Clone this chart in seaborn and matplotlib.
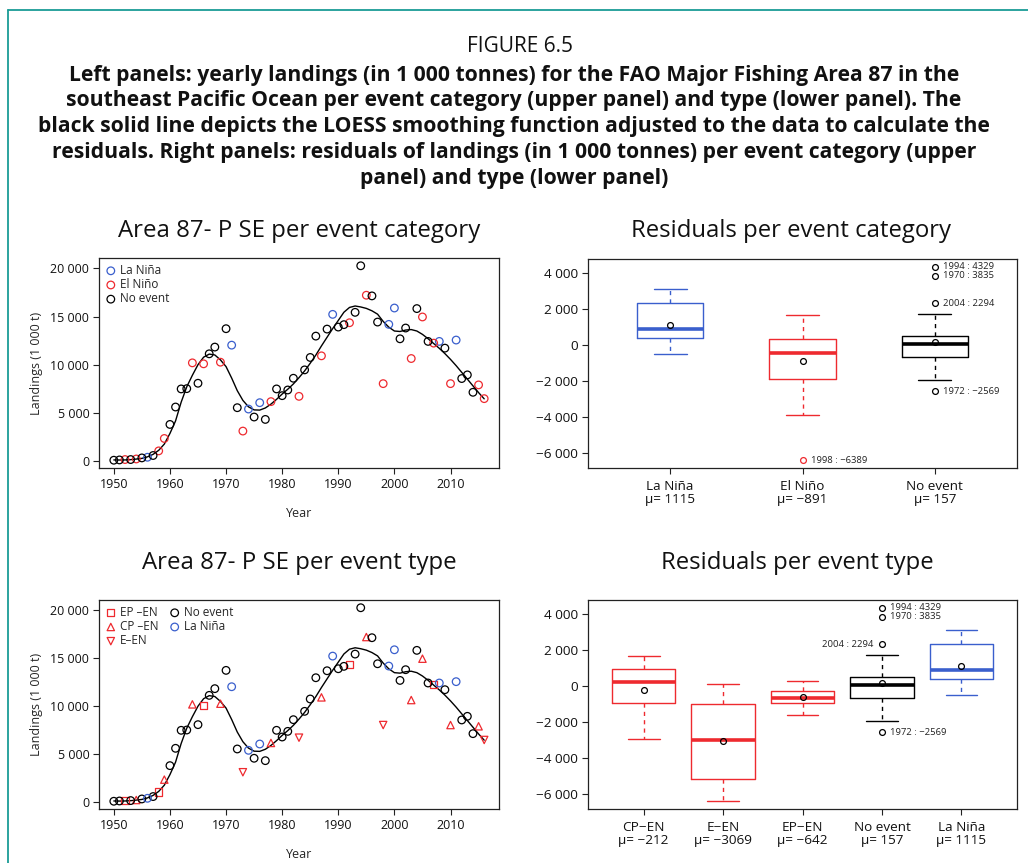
import matplotlib
matplotlib.use("Agg")
import matplotlib.pyplot as plt
from matplotlib.lines import Line2D
from matplotlib.ticker import FuncFormatter
import numpy as np
import pandas as pd
import seaborn as sns


# ---- data --------------------------------------------------------------------
YEARS = list(range(1950, 2017))

LANDINGS = [
    70, 100, 140, 140, 200, 310, 380, 560, 1040, 2330,            # 1950-1959
    3790, 5600, 7480, 7510, 10190, 8070, 10090, 11130, 11830, 10260,  # 1960s
    13740, 12030, 5530, 3100, 5390, 4560, 6050, 4310, 6160, 7480,     # 1970s
    6780, 7370, 8590, 6710, 9460, 10750, 12970, 10920, 13700, 15230,  # 1980s
    13910, 14160, 14360, 15440, 20280, 17220, 17150, 14430, 8030, 14190,  # 1990s
    15890, 12690, 13810, 10640, 15830, 14960, 12420, 12240, 12420, 11720,  # 2000s
    8030, 12560, 8560, 8940, 7130, 7900, 6470,                        # 2010-2016
]

LOESS_FIT = [
    100, 90, 100, 130, 190, 260, 420, 680, 1100, 1750,
    2850, 4150, 6100, 7700, 8900, 10000, 10780, 11100, 11010, 10500,
    9800, 8610, 7300, 6290, 5620, 5300, 5280, 5500, 5900, 6400,
    6950, 7450, 8000, 8650, 9350, 10150, 11000, 11950, 12850, 13750,
    14600, 15450, 15950, 16100, 16000, 15850, 15600, 15250, 14500, 13900,
    13500, 13450, 13600, 13650, 13500, 13150, 12700, 12200, 11700, 11150,
    10550, 9900, 9200, 8500, 7800, 7100, 6450,
]

RESIDUALS = [
    -90, -20, -260, 20, -158, 10, -400, -190, -665, 330,
    500, 800, 1000, 475, 1655, -1230, -950, 150, 440, -700,
    3835, 3080, -2569, -3885, -520, -800, 880, -1190, 200, 520,
    -170, -70, 400, -2127, 80, 420, 1710, -1150, 460, 1200,
    -700, -1960, -1610, -650, 4329, 1210, 600, -950, -6389, 365,
    2300, -760, 210, -2920, 2294, 1400, -330, 275, 500, 360,
    -2900, 2630, -600, 300, -670, 700, 125,
]

LA_NINA_YEARS = [1956, 1971, 1974, 1976, 1989, 1999, 2000, 2008, 2011]
EP_EN_YEARS = [1952, 1958, 1966, 1992, 2007]
CP_EN_YEARS = [1954, 1959, 1964, 1969, 1978, 1987, 1995, 2003, 2005, 2010, 2015]
E_EN_YEARS = [1973, 1983, 1998, 2016]

CATEGORY_ORDER = ["La Niña", "El Niño", "No event"]
TYPE_ORDER = ["CP−EN", "E−EN", "EP−EN", "No event", "La Niña"]
TYPE_LEGEND = ["EP−EN", "CP−EN", "E−EN", "No event", "La Niña"]
LEGEND_TEXT = {"EP−EN": "EP –EN", "CP−EN": "CP –EN", "E−EN": "E–EN"}

BLUE = "#3A5FCD"
RED = "#EE2A2F"
COLORS = {"La Niña": BLUE, "El Niño": RED, "No event": "black",
          "CP−EN": RED, "E−EN": RED, "EP−EN": RED}
MARKERS = {"La Niña": "o", "El Niño": "o", "No event": "o",
           "EP−EN": "s", "CP−EN": "^", "E−EN": "v"}

CAPTION = [
    "Left panels: yearly landings (in 1 000 tonnes) for the FAO Major Fishing Area 87 in the",
    "southeast Pacific Ocean per event category (upper panel) and type (lower panel). The",
    "black solid line depicts the LOESS smoothing function adjusted to the data to calculate the",
    "residuals. Right panels: residuals of landings (in 1 000 tonnes) per event category (upper",
    "panel) and type (lower panel)",
]


def event_type(year):
    if year in LA_NINA_YEARS:
        return "La Niña"
    if year in EP_EN_YEARS:
        return "EP−EN"
    if year in CP_EN_YEARS:
        return "CP−EN"
    if year in E_EN_YEARS:
        return "E−EN"
    return "No event"


def build_frame():
    df = pd.DataFrame({"year": YEARS, "landings": LANDINGS,
                       "loess": LOESS_FIT, "residual": RESIDUALS})
    df["type"] = df["year"].map(event_type)
    df["category"] = np.where(df["type"].str.endswith("EN"), "El Niño", df["type"])
    return df


def fmt_thousands(v, _pos=None):
    return f"{v:,.0f}".replace(",", " ").replace("-", "−")


def fmt_plain(v):
    return f"{v:.0f}".replace("-", "−")


def fivenum(values):
    # Tukey hinges, as R's boxplot does
    x = np.sort(values)
    n = len(x)
    n4 = np.floor((n + 3) / 2) / 2
    d = np.array([1, n4, (n + 1) / 2, n + 1 - n4, n]) - 1
    return 0.5 * (x[np.floor(d).astype(int)] + x[np.ceil(d).astype(int)])


def box_stats(values, years):
    _, h1, med, h3, _ = fivenum(values)
    reach = 1.5 * (h3 - h1)
    inside = (values >= h1 - reach) & (values <= h3 + reach)
    stats = {"med": med, "q1": h1, "q3": h3,
             "whislo": values[inside].min(), "whishi": values[inside].max(),
             "mean": values.mean(), "fliers": values[~inside]}
    return stats, years[~inside]


def style_axes(ax, labelsize):
    for spine in ax.spines.values():
        spine.set_visible(True)
        spine.set_color("#222222")
        spine.set_linewidth(0.9)
    ax.tick_params(direction="out", length=4.5, width=0.8, labelsize=labelsize,
                   colors="#222222", labelcolor="#111111", pad=2.5)
    ax.yaxis.set_major_formatter(FuncFormatter(fmt_thousands))


def landings_panel(ax, df, col, order, legend_ncol):
    for name in order:
        sub = df[df[col] == name]
        color = COLORS[name]
        marker = MARKERS[name]
        size = 30 if marker == "o" else 28
        sns.scatterplot(x=sub["year"], y=sub["landings"], marker=marker, s=size,
                        color=color, facecolor="none", edgecolor=color,
                        linewidth=0.9, label=LEGEND_TEXT.get(name, name),
                        ax=ax, zorder=3)
    sns.lineplot(x=df["year"], y=df["loess"], color="black", linewidth=1.0,
                 ax=ax, zorder=2)
    ax.margins(x=0.04, y=0.04)
    ax.set_xticks([1950, 1960, 1970, 1980, 1990, 2000, 2010])
    ax.set_yticks([0, 5000, 10000, 15000, 20000])
    ax.set_xlabel("Year", fontsize=9)
    ax.set_ylabel("Landings (1 000 t)", fontsize=9)
    ax.xaxis.set_label_coords(0.5, -0.185)
    ax.yaxis.set_label_coords(-0.14, 0.5)
    ax.legend(loc="upper left", ncol=legend_ncol, frameon=False, fontsize=8.5,
              handletextpad=0.25, labelspacing=0.1, borderaxespad=0.3,
              handlelength=1.0, columnspacing=0.9, borderpad=0.2)
    style_axes(ax, 9)


def residual_panel(ax, df, col, order, width, label_left=()):
    n = len(order)
    labels = []
    for pos, name in enumerate(order):
        sub = df[df[col] == name]
        stats, out_years = box_stats(sub["residual"].to_numpy(float),
                                     sub["year"].to_numpy())
        color = COLORS[name]
        ax.bxp([stats], positions=[pos], widths=width, showmeans=True,
               manage_ticks=False,
               boxprops=dict(color=color, linewidth=1.0),
               medianprops=dict(color=color, linewidth=2.6, solid_capstyle="butt"),
               whiskerprops=dict(color=color, linewidth=1.0, linestyle=(0, (3, 3))),
               capprops=dict(color=color, linewidth=1.0),
               flierprops=dict(marker="o", markerfacecolor="none",
                               markeredgecolor=color, markersize=4.2,
                               markeredgewidth=0.9),
               meanprops=dict(marker="o", markerfacecolor="none",
                              markeredgecolor="black", markersize=4.2,
                              markeredgewidth=0.9))
        for yr, val in zip(out_years, stats["fliers"]):
            left = yr in label_left
            ax.annotate(f"{yr} : {fmt_plain(val)}", (pos, val),
                        xytext=(-6 if left else 6, 0), textcoords="offset points",
                        ha="right" if left else "left", va="center",
                        fontsize=6.8, color="#222222")
        labels.append(f"{name}\nμ= {fmt_plain(round(stats['mean']))}")
    ax.set_xlim(-0.5 - 0.04 * n, n - 0.5 + 0.04 * n)
    ax.margins(y=0.04)
    ax.set_xticks(range(n))
    ax.set_xticklabels(labels, linespacing=1.0)
    ax.set_yticks([-6000, -4000, -2000, 0, 2000, 4000])
    ax.set_xlabel("")
    ax.set_ylabel("")
    style_axes(ax, 9.7)
    ax.tick_params(axis="x", pad=4)


def main():
    df = build_frame()

    sns.set_theme(style="ticks")
    plt.rcParams["font.family"] = ["Open Sans", "DejaVu Sans"]
    plt.rcParams["axes.unicode_minus"] = True

    W, H = 1028, 863
    fig = plt.figure(figsize=(W / 100, H / 100), dpi=100)
    fig.patch.set_facecolor("white")

    def rect(left, top, right, bottom):
        return [left / W, 1 - bottom / H, (right - left) / W, (bottom - top) / H]

    ax_tl = fig.add_axes(rect(99, 258, 499, 468))
    ax_tr = fig.add_axes(rect(588, 259, 1017, 468))
    ax_bl = fig.add_axes(rect(99, 600, 499, 809))
    ax_br = fig.add_axes(rect(588, 600, 1017, 809))

    landings_panel(ax_tl, df, "category", CATEGORY_ORDER, 1)
    residual_panel(ax_tr, df, "category", CATEGORY_ORDER, 0.5)
    landings_panel(ax_bl, df, "type", TYPE_LEGEND, 2)
    residual_panel(ax_br, df, "type", TYPE_ORDER, 0.8, label_left=(2004,))

    # heading block
    fig.text(0.506, 1 - 47 / H, "FIGURE 6.5", ha="center", va="center",
             fontsize=15, color="#111111")
    for i, line in enumerate(CAPTION):
        fig.text(0.5, 1 - (75 + 25.8 * i) / H, line, ha="center", va="center",
                 fontsize=15.2, fontweight="bold", color="#111111")

    fig.text(299 / W, 1 - 231 / H, "Area 87- P SE per event category",
             ha="center", va="center", fontsize=17.3, color="#111111")
    fig.text(791 / W, 1 - 231 / H, "Residuals per event category",
             ha="center", va="center", fontsize=17.2, color="#111111")
    fig.text(299 / W, 1 - 563 / H, "Area 87- P SE per event type",
             ha="center", va="center", fontsize=17.3, color="#111111")
    fig.text(797 / W, 1 - 563 / H, "Residuals per event type",
             ha="center", va="center", fontsize=17.2, color="#111111")

    # teal frame of the printed figure
    frame_color = "#1A9C96"
    fig.add_artist(Line2D([7.5 / W, 7.5 / W], [0, 1 - 10.5 / H],
                          color=frame_color, linewidth=1.3))
    fig.add_artist(Line2D([7.5 / W, 1], [1 - 10.5 / H, 1 - 10.5 / H],
                          color=frame_color, linewidth=1.3))

    fig.savefig("out.png", dpi=100)
    plt.close(fig)


if __name__ == "__main__":
    main()
